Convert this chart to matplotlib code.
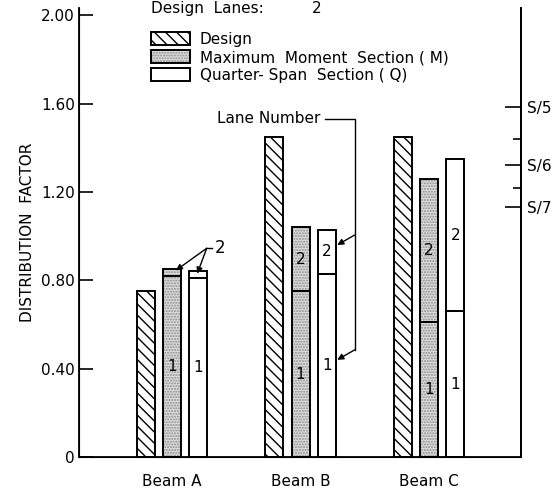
import numpy as np
import matplotlib
matplotlib.use("Agg")
import matplotlib.pyplot as plt
from matplotlib.patches import Patch

plt.rcParams['font.family'] = 'DejaVu Sans'
plt.rcParams['hatch.linewidth'] = 1.0

beams = ['Beam A', 'Beam B', 'Beam C']
design = [0.75, 1.45, 1.45]
m_lane1 = [0.82, 0.75, 0.61]
m_total = [0.85, 1.04, 1.26]
q_lane1 = [0.81, 0.83, 0.66]
q_total = [0.84, 1.03, 1.35]

y_ticks = [0, 0.4, 0.8, 1.2, 1.6, 2.0]
y_labels = ['0', '0.40', '0.80', '1.20', '1.60', '2.00']
S = 7.92
s_div = [5, 6, 7]
s_minor = [5.5, 6.5]
design_lanes = 2

fs = 11
lw = 1.4
stipple = '#dedede'
dots = '#8a8a8a'
dot_hatch = '......'

fig = plt.figure(figsize=(5.59, 4.91), dpi=100)
ax = fig.add_axes([79/559, 34/491, 442/559, 449/491])

x = np.arange(1, len(beams) + 1)
off = 0.206
w = 0.14
m2 = np.subtract(m_total, m_lane1)
q2 = np.subtract(q_total, q_lane1)

# Design
ax.bar(x - off, design, w, color='white', edgecolor='black', hatch='\\\\\\', lw=lw)
# Max moment section (stippled)
ax.bar(x, m_lane1, w, color=stipple, edgecolor=dots, hatch=dot_hatch, lw=0)
ax.bar(x, m2, w, bottom=m_lane1, color=stipple, edgecolor=dots, hatch=dot_hatch, lw=0)
ax.bar(x, m_lane1, w, fill=False, edgecolor='black', lw=lw)
ax.bar(x, m2, w, bottom=m_lane1, fill=False, edgecolor='black', lw=lw)
# Quarter-span section
ax.bar(x + off, q_lane1, w, color='white', edgecolor='black', lw=lw)
ax.bar(x + off, q2, w, bottom=q_lane1, color='white', edgecolor='black', lw=lw)

# lane numbers inside bars
for i in range(len(beams)):
    ax.text(x[i], m_lane1[i] / 2, '1', ha='center', va='center', fontsize=fs)
    ax.text(x[i] + off, q_lane1[i] / 2, '1', ha='center', va='center', fontsize=fs)
    if m2[i] > 0.1:
        ax.text(x[i], m_lane1[i] + m2[i] / 2, '2', ha='center', va='center', fontsize=fs)
    if q2[i] > 0.1:
        ax.text(x[i] + off, q_lane1[i] + q2[i] / 2, '2', ha='center', va='center', fontsize=fs)

# Beam A lane 2 is too thin -> label outside with arrows
arr = dict(arrowstyle='-|>', color='black', lw=1, mutation_scale=9, shrinkA=0, shrinkB=0)
sx, sy = x[0] + 0.27, 0.945
ax.plot([sx, sx + 0.04], [sy, sy], color='black', lw=1)
ax.text(sx + 0.06, sy, '2', ha='left', va='center', fontsize=fs + 1)
ax.annotate('', xy=(x[0] + 0.03, m_total[0] - 0.005), xytext=(sx, sy), arrowprops=arr)
ax.annotate('', xy=(x[0] + off - 0.01, q_total[0] - 0.01), xytext=(sx, sy), arrowprops=arr)

# "Lane Number" callout for Beam B
qr = x[1] + off + w / 2
lx = qr + 0.145
ly = 1.531
ax.text(x[1] + 0.152, ly, 'Lane Number', ha='right', va='center', fontsize=fs)
ax.plot([x[1] + 0.19, lx, lx], [ly, ly, q_lane1[1] / 2 + 0.07], color='black', lw=1)
ax.annotate('', xy=(qr + 0.01, q_lane1[1] / 2 + 0.025), xytext=(lx, q_lane1[1] / 2 + 0.07), arrowprops=arr)
ax.annotate('', xy=(qr + 0.01, q_lane1[1] + q2[1] / 2 + 0.03), xytext=(lx, q_lane1[1] + q2[1] / 2 + 0.075), arrowprops=arr)

ax.set_xlim(0.276, 3.716)
ax.set_ylim(0, 2.033)
ax.set_yticks(y_ticks, y_labels)
ax.set_xticks(x, beams)
ax.tick_params(axis='y', direction='in', length=10, width=1.2, pad=3, labelsize=fs)
ax.tick_params(axis='x', length=0, pad=12, labelsize=fs)
ax.set_ylabel('DISTRIBUTION  FACTOR', fontsize=fs)
ax.yaxis.set_label_coords(-0.10, 0.5)
ax.spines['top'].set_visible(False)
for s in ['left', 'bottom', 'right']:
    ax.spines[s].set_linewidth(1.3)

ax2 = ax.twinx()
ax2.set_ylim(ax.get_ylim())
ax2.set_yticks([S / d for d in s_div], ['S/%d' % d for d in s_div])
ax2.set_yticks([S / d for d in s_minor], minor=True)
ax2.tick_params(axis='y', which='major', direction='in', length=11.5, width=1.2, pad=4, labelsize=fs)
ax2.tick_params(axis='y', which='minor', direction='in', length=6, width=1.2)
ax2.spines['top'].set_visible(False)
ax2.spines['right'].set_linewidth(1.3)

handles = [Patch(facecolor='white', edgecolor='black', hatch='\\\\\\', lw=lw),
           (Patch(facecolor=stipple, edgecolor=dots, hatch=dot_hatch, lw=0),
            Patch(fill=False, edgecolor='black', lw=lw)),
           Patch(facecolor='white', edgecolor='black', lw=lw)]
labels = ['Design', 'Maximum  Moment  Section ( M)', 'Quarter- Span  Section ( Q)']
fig.legend(handles, labels, loc='upper left', bbox_to_anchor=(151/559, 1 - 32/491),
           frameon=False, borderpad=0, borderaxespad=0, fontsize=fs, handlelength=2.55,
           handleheight=0.92, handletextpad=0.65, labelspacing=0.2)

fig.text(151/559, 1 - 13/491, 'Design  Lanes:', fontsize=fs, va='baseline')
fig.text(312/559, 1 - 13/491, str(design_lanes), fontsize=fs, va='baseline')

fig.savefig('out.png', dpi=100)
